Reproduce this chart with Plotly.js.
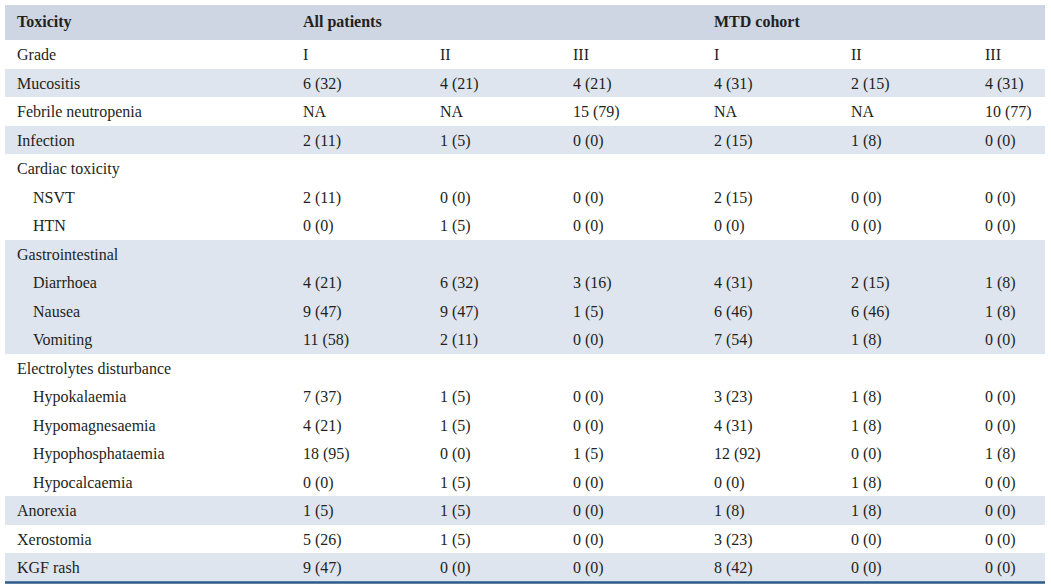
<!DOCTYPE html>
<html>
<head>
<meta charset="utf-8">
<script src="https://cdn.plot.ly/plotly-3.0.1.min.js"></script>
<style>html,body{margin:0;padding:0;background:#fff;}#chart{width:1051px;height:587px;}</style>
</head>
<body>
<div id="chart"></div>
<script>
const headers = ["Toxicity", "All patients", "", "", "MTD cohort", "", ""];
const categories = ["Grade", "Mucositis", "Febrile neutropenia", "Infection", "Cardiac toxicity", "NSVT", "HTN",
  "Gastrointestinal", "Diarrhoea", "Nausea", "Vomiting", "Electrolytes disturbance", "Hypokalaemia",
  "Hypomagnesaemia", "Hypophosphataemia", "Hypocalcaemia", "Anorexia", "Xerostomia", "KGF rash"];
const indented = [0,0,0,0,0,1,1,0,1,1,1,0,1,1,1,1,0,0,0];
const allI   = ["I", "6 (32)", "NA", "2 (11)", "", "2 (11)", "0 (0)", "", "4 (21)", "9 (47)", "11 (58)", "", "7 (37)", "4 (21)", "18 (95)", "0 (0)", "1 (5)", "5 (26)", "9 (47)"];
const allII  = ["II", "4 (21)", "NA", "1 (5)", "", "0 (0)", "1 (5)", "", "6 (32)", "9 (47)", "2 (11)", "", "1 (5)", "1 (5)", "0 (0)", "1 (5)", "1 (5)", "1 (5)", "0 (0)"];
const allIII = ["III", "4 (21)", "15 (79)", "0 (0)", "", "0 (0)", "0 (0)", "", "3 (16)", "1 (5)", "0 (0)", "", "0 (0)", "0 (0)", "1 (5)", "0 (0)", "0 (0)", "0 (0)", "0 (0)"];
const mtdI   = ["I", "4 (31)", "NA", "2 (15)", "", "2 (15)", "0 (0)", "", "4 (31)", "6 (46)", "7 (54)", "", "3 (23)", "4 (31)", "12 (92)", "0 (0)", "1 (8)", "3 (23)", "8 (42)"];
const mtdII  = ["II", "2 (15)", "NA", "1 (8)", "", "0 (0)", "0 (0)", "", "2 (15)", "6 (46)", "1 (8)", "", "1 (8)", "1 (8)", "0 (0)", "1 (8)", "1 (8)", "0 (0)", "0 (0)"];
const mtdIII = ["III", "4 (31)", "10 (77)", "0 (0)", "", "0 (0)", "0 (0)", "", "1 (8)", "1 (8)", "0 (0)", "", "0 (0)", "0 (0)", "1 (8)", "0 (0)", "0 (0)", "0 (0)", "0 (0)"];
const shaded = [0,1,0,1,0,0,0,1,1,1,1,0,0,0,0,0,1,0,1];

const SHADE = "#dfe5ef", WHITE = "#ffffff", HEAD = "#cdd6e2", TXT = "#231f20";
const NB = "\u00a0";
const pad = s => (s === "" ? "" : NB + s);
const labels = categories.map((c, i) => NB + (indented[i] ? NB.repeat(4) : "") + c);
const rowFill = shaded.map(s => s ? SHADE : WHITE);
const ncol = 7;
const fills = Array.from({length: ncol}, () => rowFill);

const W = 1051, H = 587;
const tLeft = 5, tRight = 1045, tTop = 5, tBottom = 582;
const FONT = "Liberation Serif, Times New Roman, serif";

const trace = {
  type: "table",
  domain: {x: [tLeft / W, tRight / W], y: [(H - tBottom) / H, (H - tTop) / H]},
  columnwidth: [286, 137, 133, 141, 137, 134, 72],
  header: {
    values: headers.map(h => (h ? "<b>" + NB + h + "</b>" : "")),
    align: "left",
    height: 35,
    fill: {color: HEAD},
    line: {width: 0, color: HEAD},
    font: {family: FONT, size: 16, color: TXT}
  },
  cells: {
    values: [labels, allI.map(pad), allII.map(pad), allIII.map(pad), mtdI.map(pad), mtdII.map(pad), mtdIII.map(pad)],
    align: "left",
    height: 28.5,
    fill: {color: fills},
    line: {width: 0, color: WHITE},
    font: {family: FONT, size: 16, color: TXT}
  }
};

const layout = {
  width: W, height: H,
  margin: {l: 0, r: 0, t: 0, b: 0},
  paper_bgcolor: "#fff",
  shapes: [{
    type: "line", xref: "paper", yref: "paper",
    x0: tLeft / W, x1: tRight / W, y0: (H - tBottom - 0.5) / H, y1: (H - tBottom - 0.5) / H,
    line: {color: "#2c5a8a", width: 2.5}
  }]
};

Plotly.newPlot("chart", [trace], layout, {displayModeBar: false, staticPlot: true});
</script>
</body>
</html>
